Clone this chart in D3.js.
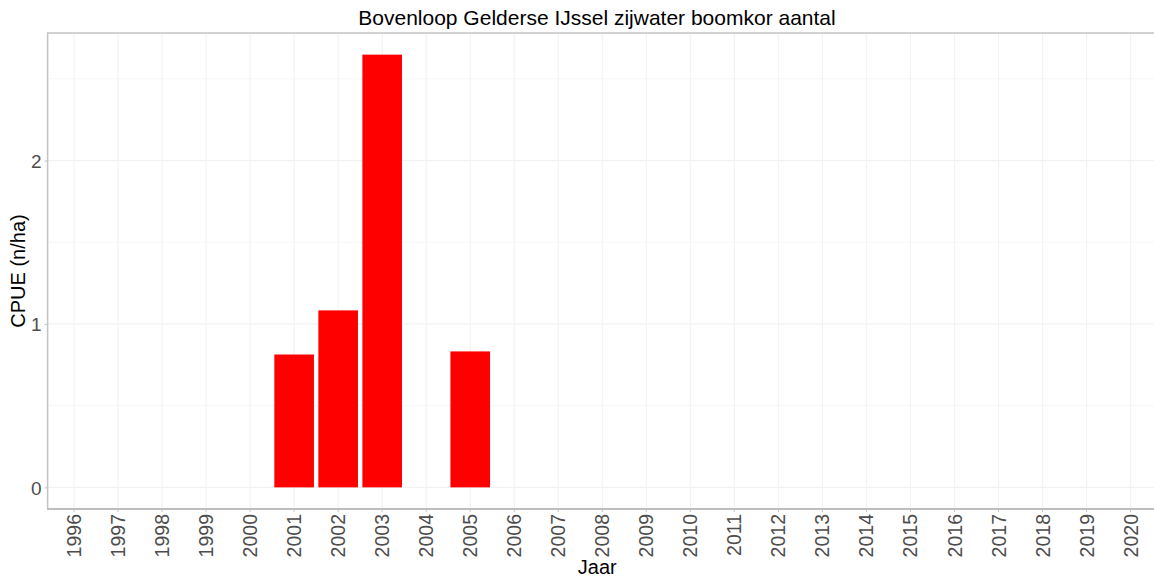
<!DOCTYPE html>
<html><head><meta charset="utf-8">
<script src="https://cdn.jsdelivr.net/npm/d3@7"></script>
<style>body{margin:0;background:#fff;}svg{display:block;font-family:"Liberation Sans",Arial,sans-serif;}</style>
</head><body>
<svg id="chart" width="1154" height="579"></svg>
<script>
const years = ["1996","1997","1998","1999","2000","2001","2002","2003","2004","2005","2006","2007","2008","2009","2010","2011","2012","2013","2014","2015","2016","2017","2018","2019","2020"];
const cpue = [0,0,0,0,0,0.813,1.083,2.648,0,0.832,0,0,0,0,0,0,0,0,0,0,0,0,0,0,0];
const yTicks = [0,1,2];
const yMinor = [0.5,1.5,2.5];
const title = "Bovenloop Gelderse IJssel zijwater boomkor aantal";
const xLabel = "Jaar";
const yLabel = "CPUE (n/ha)";

const svg = d3.select("#chart");
const L = 47.6, R = 1157, T = 33, B = 509;
const maxV = d3.max(cpue);
const x = d3.scaleBand().domain(years).range([L, R]).paddingInner(0.1).paddingOuter(0.15);
const y = d3.scaleLinear().domain([-0.05*maxV, maxV*1.05]).range([B, T]);

const g = svg.append("g");
// minor grid
g.selectAll(".ymin").data(yMinor).join("line")
  .attr("x1", L).attr("x2", R).attr("y1", d=>y(d)).attr("y2", d=>y(d))
  .attr("stroke", "#f6f6f6").attr("stroke-width", 1);
// major grid
g.selectAll(".ymaj").data(yTicks).join("line")
  .attr("x1", L).attr("x2", R).attr("y1", d=>y(d)).attr("y2", d=>y(d))
  .attr("stroke", "#f1f1f1").attr("stroke-width", 1.2);
g.selectAll(".xmaj").data(years).join("line")
  .attr("x1", d=>x(d)+x.bandwidth()/2).attr("x2", d=>x(d)+x.bandwidth()/2).attr("y1", T).attr("y2", B)
  .attr("stroke", "#f3f3f3").attr("stroke-width", 1.2);

// bars
g.selectAll(".bar").data(years.map((yr,i)=>({yr, v: cpue[i]})).filter(d=>d.v>0)).join("rect")
  .attr("x", d=>x(d.yr)).attr("width", x.bandwidth())
  .attr("y", d=>y(d.v)).attr("height", d=>y(0)-y(d.v))
  .attr("fill", "#ff0000");

// border
svg.append("rect").attr("x", L).attr("y", T).attr("width", R-L).attr("height", B-T)
  .attr("fill", "none").attr("stroke", "#c4c4c4").attr("stroke-width", 1.5);
svg.append("line").attr("x1", L).attr("x2", R).attr("y1", B).attr("y2", B).attr("stroke", "#a8a8a8").attr("stroke-width", 1.2);

// axes
const yAxis = svg.append("g").attr("transform", `translate(${L},0)`)
  .call(d3.axisLeft(y).tickValues(yTicks).tickSize(3).tickPadding(3).tickFormat(d3.format("d")));
yAxis.select(".domain").remove();
yAxis.selectAll("line").attr("stroke", "#c4c4c4");
yAxis.selectAll("text").attr("fill", "#4d4d4d").style("font-size", "19px").attr("dy", "0.35em");

const xAxis = svg.append("g").attr("transform", `translate(0,${B})`)
  .call(d3.axisBottom(x).tickSize(3).tickPadding(3));
xAxis.select(".domain").remove();
xAxis.selectAll("line").attr("stroke", "#c4c4c4");
xAxis.selectAll("text").attr("fill", "#4d4d4d").style("font-size", "19.5px")
  .attr("transform", "rotate(-90)").attr("text-anchor", "end")
  .attr("x", -5).attr("y", 0).attr("dy", "0.36em");

// titles
svg.append("text").attr("x", 597).attr("y", 25).attr("text-anchor", "middle")
  .style("font-size", "21px").attr("fill", "#000").text(title);
svg.append("text").attr("x", (L+R)/2 - 5).attr("y", 574).attr("text-anchor", "middle")
  .style("font-size", "20px").attr("fill", "#000").text(xLabel);
svg.append("text").attr("transform", `translate(25,${(T+B)/2}) rotate(-90)`).attr("text-anchor", "middle")
  .style("font-size", "20px").attr("fill", "#000").text(yLabel);
</script>
</body></html>
